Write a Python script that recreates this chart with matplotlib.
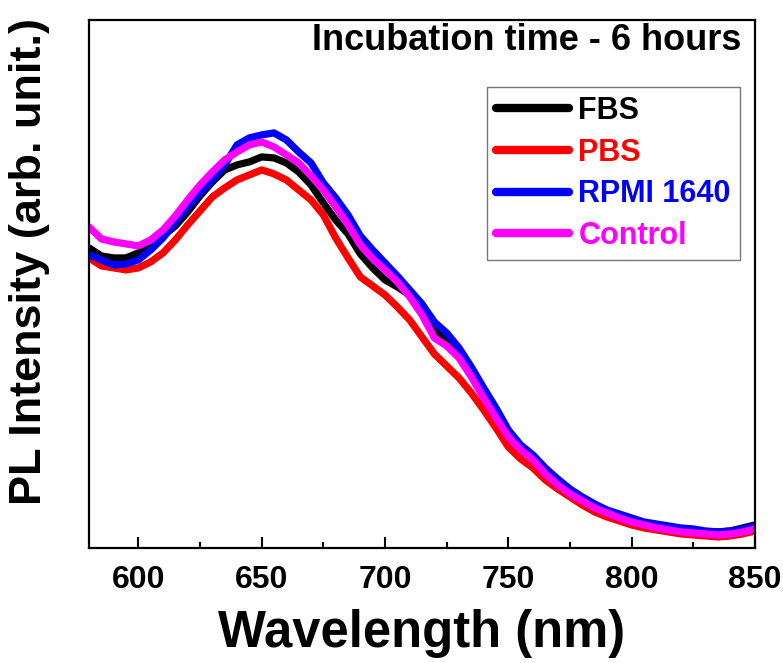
import matplotlib
matplotlib.use("Agg")
import matplotlib.pyplot as plt
import numpy as np

plt.rcParams['font.family'] = ['Liberation Sans', 'DejaVu Sans']
plt.rcParams['font.weight'] = 'bold'

wavelength = [580, 585, 590, 595, 600, 605, 610, 615, 620, 625, 630, 635, 640, 645,
              650, 655, 660, 665, 670, 675, 680, 685, 690, 695, 700, 705, 710, 715,
              720, 725, 730, 735, 740, 745, 750, 755, 760, 765, 770, 775, 780, 785,
              790, 795, 800, 805, 810, 815, 820, 825, 830, 835, 840, 845, 850]

fbs = [300, 292, 290, 290, 295, 302, 312, 322, 336, 352, 366, 378, 383, 386,
       391, 390, 385, 376, 363, 345, 328, 314, 294, 280, 268, 261, 253, 236,
       218, 208, 193, 176, 155, 135, 114, 100, 90, 77, 66, 57, 49, 42,
       37, 33, 29, 25, 23, 21, 19, 18, 16, 16, 17, 20, 23]

pbs = [290, 282, 280, 278, 280, 286, 295, 308, 323, 337, 351, 360, 368, 373,
       378, 374, 368, 358, 348, 333, 310, 290, 271, 262, 253, 241, 228, 211,
       194, 182, 170, 155, 138, 120, 101, 89, 80, 68, 59, 51, 43, 36,
       31, 27, 23, 20, 18, 16, 14, 13, 12, 11, 12, 14, 17]

rpmi = [293, 288, 283, 284, 288, 298, 310, 326, 341, 355, 368, 383, 403, 410,
        413, 415, 408, 396, 385, 365, 350, 333, 312, 298, 285, 272, 258, 244,
        226, 215, 200, 181, 160, 140, 118, 103, 93, 80, 69, 59, 51, 44,
        38, 34, 30, 26, 24, 22, 20, 19, 17, 16, 17, 19, 22]

control = [321, 309, 306, 304, 302, 308, 318, 332, 348, 363, 376, 388, 396, 403,
           406, 401, 393, 385, 372, 358, 341, 323, 303, 289, 278, 266, 251, 233,
           210, 202, 190, 171, 150, 130, 111, 98, 88, 74, 63, 54, 47, 40,
           35, 30, 26, 23, 20, 18, 16, 15, 14, 13, 14, 16, 19]

series_names = ["FBS", "PBS", "RPMI 1640", "Control"]
series_colors = ["#000000", "#ff0000", "#0000ff", "#ff00ff"]
x_ticks = [600, 650, 700, 750, 800, 850]

fig = plt.figure(figsize=(7.83, 6.63), dpi=100)
ax = fig.add_axes([0.1137, 0.1735, 0.8505, 0.7965])

for data, name, col in zip([fbs, pbs, rpmi, control], series_names, series_colors):
    ax.plot(wavelength, data, color=col, lw=5.2, label=name, solid_capstyle='round',
            solid_joinstyle='round')

ax.set_xlim(580, 850)
ax.set_ylim(0, 528)
ax.set_xticks(x_ticks)
ax.set_xticks(np.arange(625, 850, 50), minor=True)
ax.set_yticks([])
ax.tick_params(axis='x', which='major', direction='in', length=8, width=1.5,
               labelsize=23, pad=12)
ax.tick_params(axis='x', which='minor', direction='in', length=4.5, width=1.5)
for lab in ax.get_xticklabels():
    lab.set_fontweight('bold')
for s in ax.spines.values():
    s.set_linewidth(1.6)

ax.set_xlabel("Wavelength (nm)", fontsize=36.5, fontweight='bold', labelpad=10)
ax.set_ylabel("PL Intensity (arb. unit.)", fontsize=32.5, fontweight='bold')
ax.yaxis.set_label_coords(-0.058, 0.542)

ax.text(0.98, 0.943, "Incubation time - 6 hours", transform=ax.transAxes,
        ha='right', va='baseline', fontsize=26, fontweight='bold')

leg = ax.legend(loc='upper right', bbox_to_anchor=(0.9775, 0.873),
                handlelength=2.4, handletextpad=0.3, labelspacing=0.38,
                borderpad=0.3, borderaxespad=0, fancybox=False, frameon=True,
                prop={'weight': 'bold', 'size': 22})
leg.get_frame().set_edgecolor('#555555')
leg.get_frame().set_linewidth(1.0)
for line in leg.get_lines():
    line.set_linewidth(6)
for txt, col in zip(leg.get_texts(), series_colors):
    txt.set_color(col)

fig.savefig("out.png", dpi=100)
